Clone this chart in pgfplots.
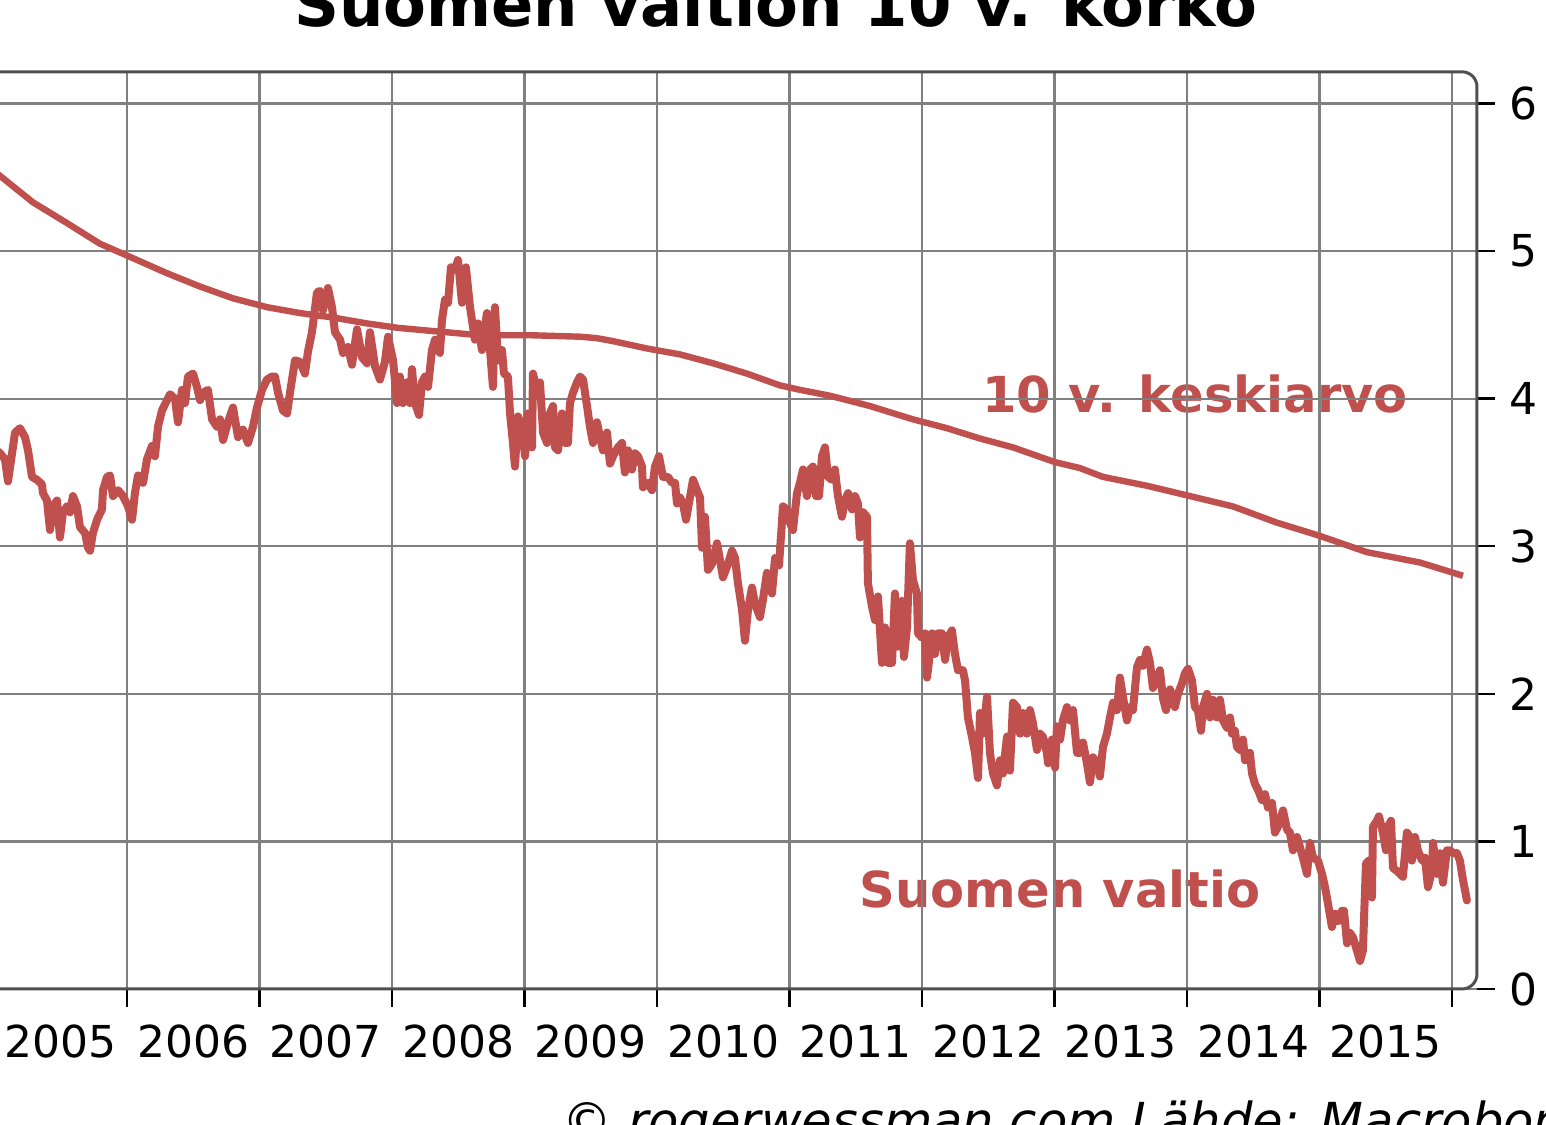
\documentclass[border=0pt]{standalone}
\usepackage{pgfplots}
\pgfplotsset{compat=1.18}
\usepackage{pgfplotstable}
\usepackage{fontspec}
\setmainfont{DejaVu Sans}
\definecolor{sred}{HTML}{C0504D}
\definecolor{gridgray}{HTML}{808080}
\definecolor{boxgray}{HTML}{505050}

\pgfplotstableread{
x y
2005.000 3.66
2005.042 3.63
2005.079 3.59
2005.102 3.44
2005.155 3.77
2005.192 3.80
2005.230 3.74
2005.253 3.65
2005.283 3.47
2005.321 3.45
2005.358 3.42
2005.366 3.36
2005.396 3.31
2005.419 3.11
2005.442 3.27
2005.472 3.31
2005.494 3.06
2005.517 3.23
2005.547 3.27
2005.570 3.23
2005.592 3.34
2005.623 3.27
2005.645 3.13
2005.683 3.09
2005.706 2.99
2005.721 2.97
2005.743 3.09
2005.774 3.18
2005.811 3.25
2005.819 3.38
2005.849 3.47
2005.872 3.48
2005.894 3.34
2005.932 3.38
2005.970 3.34
2006.008 3.27
2006.038 3.18
2006.060 3.36
2006.083 3.48
2006.121 3.43
2006.151 3.59
2006.189 3.68
2006.211 3.61
2006.234 3.81
2006.264 3.92
2006.302 3.99
2006.325 4.03
2006.362 4.00
2006.385 3.84
2006.415 4.06
2006.438 3.97
2006.460 4.15
2006.498 4.17
2006.528 4.08
2006.551 3.99
2006.574 4.04
2006.611 4.06
2006.642 3.86
2006.679 3.81
2006.702 3.86
2006.725 3.72
2006.762 3.84
2006.800 3.94
2006.838 3.74
2006.875 3.79
2006.913 3.70
2006.951 3.81
2006.981 3.94
2007.019 4.06
2007.057 4.13
2007.094 4.15
2007.117 4.15
2007.140 4.04
2007.177 3.92
2007.208 3.90
2007.230 4.04
2007.268 4.26
2007.306 4.25
2007.343 4.17
2007.366 4.32
2007.396 4.45
2007.434 4.72
2007.457 4.73
2007.479 4.60
2007.517 4.75
2007.547 4.62
2007.570 4.45
2007.608 4.40
2007.630 4.31
2007.668 4.35
2007.698 4.23
2007.736 4.47
2007.774 4.28
2007.811 4.24
2007.834 4.45
2007.872 4.22
2007.909 4.13
2007.947 4.25
2007.970 4.42
2008.008 4.26
2008.038 3.97
2008.060 4.15
2008.083 3.97
2008.113 4.11
2008.136 3.97
2008.151 4.20
2008.174 3.97
2008.204 3.89
2008.226 4.11
2008.249 4.15
2008.272 4.08
2008.302 4.33
2008.325 4.40
2008.362 4.31
2008.377 4.53
2008.400 4.67
2008.423 4.65
2008.445 4.89
2008.475 4.87
2008.498 4.94
2008.528 4.65
2008.558 4.89
2008.589 4.62
2008.626 4.40
2008.649 4.51
2008.679 4.33
2008.702 4.49
2008.717 4.58
2008.740 4.33
2008.762 4.08
2008.777 4.62
2008.800 4.26
2008.830 4.33
2008.845 4.17
2008.875 4.15
2008.891 3.90
2008.913 3.70
2008.928 3.54
2008.951 3.88
2008.981 3.81
2009.004 3.61
2009.026 3.90
2009.057 3.67
2009.064 4.17
2009.094 4.06
2009.117 4.11
2009.140 3.77
2009.170 3.70
2009.192 3.90
2009.215 3.95
2009.230 3.67
2009.253 3.65
2009.283 3.90
2009.306 3.70
2009.328 3.70
2009.343 3.97
2009.366 4.04
2009.396 4.11
2009.419 4.15
2009.442 4.13
2009.472 3.95
2009.494 3.81
2009.517 3.70
2009.547 3.84
2009.570 3.74
2009.592 3.65
2009.623 3.77
2009.645 3.56
2009.668 3.61
2009.706 3.67
2009.736 3.70
2009.758 3.50
2009.781 3.65
2009.811 3.52
2009.834 3.63
2009.857 3.61
2009.887 3.54
2009.894 3.40
2009.932 3.43
2009.962 3.38
2009.985 3.54
2010.015 3.61
2010.045 3.47
2010.083 3.47
2010.113 3.43
2010.136 3.43
2010.151 3.29
2010.174 3.33
2010.196 3.29
2010.219 3.18
2010.249 3.33
2010.272 3.45
2010.302 3.38
2010.325 3.33
2010.340 2.99
2010.362 3.20
2010.385 2.84
2010.415 2.88
2010.453 3.02
2010.475 2.91
2010.498 2.79
2010.536 2.88
2010.566 2.97
2010.589 2.92
2010.611 2.75
2010.642 2.57
2010.664 2.36
2010.687 2.57
2010.717 2.72
2010.740 2.61
2010.777 2.52
2010.800 2.64
2010.830 2.82
2010.868 2.68
2010.891 2.92
2010.921 2.87
2010.951 3.27
2010.981 3.25
2011.004 3.16
2011.026 3.11
2011.057 3.36
2011.079 3.43
2011.102 3.52
2011.132 3.34
2011.155 3.52
2011.177 3.54
2011.200 3.34
2011.223 3.34
2011.245 3.61
2011.268 3.67
2011.291 3.47
2011.321 3.45
2011.343 3.52
2011.366 3.34
2011.396 3.20
2011.419 3.31
2011.442 3.36
2011.472 3.25
2011.494 3.34
2011.517 3.29
2011.532 3.06
2011.555 3.23
2011.585 3.20
2011.592 2.75
2011.623 2.59
2011.645 2.50
2011.668 2.66
2011.698 2.21
2011.721 2.45
2011.743 2.21
2011.774 2.21
2011.796 2.68
2011.819 2.32
2011.849 2.63
2011.864 2.25
2011.887 2.45
2011.909 3.02
2011.932 2.77
2011.962 2.68
2011.970 2.41
2012.000 2.38
2012.023 2.41
2012.038 2.11
2012.060 2.27
2012.075 2.41
2012.098 2.27
2012.121 2.41
2012.151 2.41
2012.174 2.23
2012.196 2.38
2012.226 2.43
2012.249 2.27
2012.272 2.16
2012.309 2.16
2012.325 2.09
2012.347 1.84
2012.377 1.71
2012.400 1.60
2012.423 1.43
2012.438 1.87
2012.460 1.73
2012.491 1.98
2012.513 1.60
2012.536 1.46
2012.566 1.38
2012.589 1.55
2012.611 1.46
2012.642 1.71
2012.664 1.48
2012.687 1.94
2012.717 1.91
2012.740 1.73
2012.762 1.87
2012.792 1.73
2012.815 1.89
2012.838 1.80
2012.868 1.62
2012.891 1.73
2012.913 1.71
2012.943 1.60
2012.951 1.53
2012.981 1.69
2013.004 1.50
2013.019 1.78
2013.042 1.69
2013.064 1.82
2013.094 1.91
2013.117 1.82
2013.140 1.89
2013.170 1.60
2013.192 1.60
2013.215 1.67
2013.245 1.53
2013.268 1.40
2013.291 1.57
2013.321 1.53
2013.343 1.44
2013.366 1.64
2013.396 1.73
2013.419 1.84
2013.442 1.94
2013.472 1.89
2013.494 2.11
2013.517 1.98
2013.547 1.82
2013.570 1.91
2013.592 1.89
2013.623 2.18
2013.645 2.23
2013.668 2.19
2013.698 2.30
2013.721 2.21
2013.743 2.04
2013.774 2.10
2013.796 2.16
2013.819 1.97
2013.842 1.89
2013.872 2.03
2013.894 1.96
2013.909 1.91
2013.932 2.00
2013.962 2.07
2013.985 2.14
2014.008 2.17
2014.038 2.09
2014.060 1.91
2014.083 1.89
2014.106 1.75
2014.121 1.91
2014.151 2.00
2014.174 1.84
2014.196 1.96
2014.226 1.84
2014.249 1.96
2014.272 1.82
2014.302 1.77
2014.325 1.84
2014.340 1.73
2014.362 1.75
2014.377 1.64
2014.400 1.62
2014.423 1.69
2014.438 1.55
2014.475 1.60
2014.491 1.46
2014.513 1.39
2014.536 1.35
2014.566 1.28
2014.589 1.32
2014.611 1.23
2014.642 1.26
2014.664 1.06
2014.687 1.10
2014.725 1.21
2014.755 1.08
2014.777 1.06
2014.800 0.94
2014.830 1.03
2014.853 0.96
2014.875 0.89
2014.906 0.78
2014.928 0.99
2014.951 0.89
2014.989 0.87
2015.019 0.78
2015.042 0.69
2015.064 0.58
2015.094 0.42
2015.117 0.51
2015.140 0.46
2015.170 0.53
2015.185 0.53
2015.208 0.31
2015.230 0.38
2015.253 0.35
2015.283 0.26
2015.306 0.19
2015.328 0.26
2015.351 0.85
2015.374 0.87
2015.396 0.62
2015.404 1.10
2015.434 1.14
2015.449 1.17
2015.479 1.06
2015.502 0.94
2015.517 1.10
2015.540 1.14
2015.555 0.82
2015.585 0.80
2015.608 0.78
2015.630 0.76
2015.660 1.06
2015.683 1.03
2015.698 0.87
2015.721 1.03
2015.743 0.94
2015.774 0.87
2015.796 0.89
2015.819 0.69
2015.849 0.80
2015.857 0.99
2015.887 0.78
2015.909 0.92
2015.932 0.72
2015.962 0.94
2015.985 0.94
2016.008 0.92
2016.038 0.92
2016.060 0.87
2016.083 0.74
2016.113 0.60
}\yielddata

\pgfplotstableread{
x y
2005.000 5.54
2005.042 5.51
2005.291 5.33
2005.547 5.19
2005.796 5.05
2006.000 4.97
2006.302 4.85
2006.551 4.76
2006.800 4.68
2007.057 4.62
2007.306 4.58
2007.555 4.55
2007.811 4.51
2008.045 4.48
2008.287 4.46
2008.664 4.43
2009.042 4.43
2009.419 4.42
2009.547 4.41
2009.668 4.39
2009.925 4.34
2010.174 4.30
2010.423 4.24
2010.679 4.17
2010.928 4.09
2011.079 4.06
2011.306 4.02
2011.608 3.95
2011.932 3.86
2012.189 3.80
2012.438 3.73
2012.687 3.67
2013.004 3.57
2013.192 3.53
2013.366 3.47
2013.698 3.41
2014.023 3.34
2014.347 3.27
2014.679 3.16
2015.004 3.07
2015.358 2.96
2015.758 2.89
2016.083 2.80
}\meandata

\begin{document}
\begin{tikzpicture}
\begin{axis}[
  name=ax,
  set layers,
  scale only axis,
  width=377.25pt, height=229.3pt,
  at={(-8pt,34pt)}, anchor=south west,
  xmin=2004.8, xmax=2016.189,
  ymin=0, ymax=6.215,
  axis x line*=bottom,
  axis y line*=right,
  axis line style={draw=none},
  tick align=outside,
  major tick length=4.5pt,
  minor tick length=4.5pt,
  xtick={2005.5,2006.5,2007.5,2008.5,2009.5,2010.5,2011.5,2012.5,2013.5,2014.5,2015.5},
  xticklabels={2005,2006,2007,2008,2009,2010,2011,2012,2013,2014,2015},
  minor xtick={2005,2006,2007,2008,2009,2010,2011,2012,2013,2014,2015,2016},
  major x tick style={draw=none},
  minor x tick style={black, line width=0.6pt},
  xmajorgrids=false,
  xminorgrids=true,
  ytick={0,1,2,3,4,5,6},
  yticklabels={0,1,2,3,4,5,6},
  y tick style={black, line width=0.6pt},
  ymajorgrids=true,
  grid style={gridgray, line width=0.55pt},
  minor grid style={gridgray, line width=0.55pt},
  /pgf/number format/assume math mode=true,
  tick label style={font=\fontsize{11}{13}\selectfont, black},
  xticklabel style={yshift=-1pt},
]
\addplot[sred, line width=1.6pt, line join=round] table[x=x, y=y] {\meandata};
\addplot[sred, line width=2pt, line join=round, line cap=round] table[x=x, y=y] {\yielddata};
\begin{pgfonlayer}{axis background}
\node[anchor=base west, inner sep=0pt, text=sred, font=\fontsize{12.4}{14}\selectfont\bfseries] at (axis cs:2012.45,3.904) {10 v. keskiarvo};
\node[anchor=base west, inner sep=0pt, text=sred, font=\fontsize{12.4}{14}\selectfont\bfseries] at (axis cs:2011.525,0.553) {Suomen valtio};
\end{pgfonlayer}
\end{axis}
\draw[boxgray, line width=0.75pt, rounded corners=3.75pt] (ax.south west) rectangle (ax.north east);
\node[anchor=base, inner sep=0pt, font=\fontsize{15.6}{18}\selectfont\bfseries] at (194pt,274.5pt) {Suomen valtion 10 v. korko};
\node[anchor=base west, inner sep=0pt, font=\fontsize{12.4}{14}\selectfont\itshape] at (140.5pt,-3.3pt) {© rogerwessman.com Lähde: Macrobond};
\pgfresetboundingbox
\path[use as bounding box] (0pt,0pt) rectangle (386.5pt,281.25pt);
\end{tikzpicture}
\end{document}
